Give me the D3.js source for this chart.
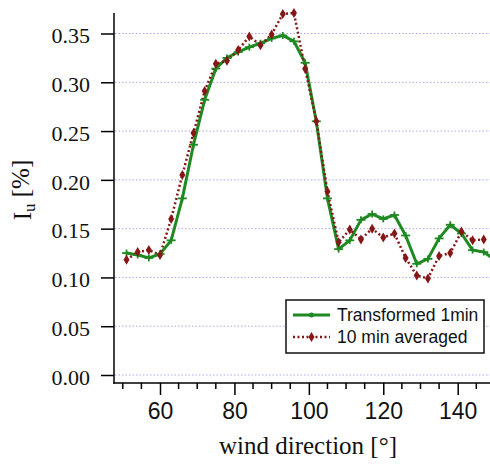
<!DOCTYPE html>
<html>
<head>
<meta charset="utf-8">
<script src="https://cdn.jsdelivr.net/npm/d3@7"></script>
<style>
  body { margin: 0; background: #fff; }
  svg { display: block; }
</style>
</head>
<body>
<div id="chart"></div>
<script>
// wind direction [deg] of each sample
var direction = [51, 54, 57, 60, 63, 66, 69, 72, 75, 78, 81, 84, 87, 90, 93, 96, 99,
                 102, 105, 108, 111, 114, 117, 120, 123, 126, 129, 132, 135, 138, 141, 144, 147, 150];

var transformed1min = [0.125, 0.123, 0.120, 0.124, 0.138, 0.181, 0.236, 0.282, 0.314, 0.325,
                       0.331, 0.336, 0.340, 0.345, 0.348, 0.342, 0.320, 0.260, 0.181, 0.129,
                       0.138, 0.159, 0.165, 0.160, 0.164, 0.143, 0.114, 0.119, 0.140, 0.154,
                       0.145, 0.128, 0.126, 0.118];

var averaged10min = [0.118, 0.126, 0.128, 0.123, 0.160, 0.205, 0.248, 0.291, 0.319, 0.322,
                     0.333, 0.347, 0.338, 0.349, 0.370, 0.371, 0.314, 0.260, 0.188, 0.136,
                     0.149, 0.139, 0.150, 0.141, 0.145, 0.120, 0.102, 0.099, 0.122, 0.125,
                     0.147, 0.138, 0.139, null];

var yTicks = [0.00, 0.05, 0.10, 0.15, 0.20, 0.25, 0.30, 0.35];
var xTicks = [60, 80, 100, 120, 140];
var xMinorTicks = [50, 55, 65, 70, 75, 85, 90, 95, 105, 110, 115, 125, 130, 135, 145];
var seriesNames = ["Transformed 1min", "10 min averaged"];

var svgWidth = 490, svgHeight = 465;
var plot = { left: 114, right: 490, top: 13, bottom: 383 };

var green = "#1f8a22";
var red = "#861717";

var svg = d3.select("#chart").append("svg")
    .attr("width", svgWidth)
    .attr("height", svgHeight);

var xScale = d3.scaleLinear().domain([60, 140]).range([160, 457.7]);
var yScale = d3.scaleLinear().domain([0, 0.35]).range([375, 33.5]);

// dotted grid lines
svg.append("g")
    .selectAll("line")
    .data(yTicks)
    .enter()
    .append("line")
    .attr("x1", plot.left + 1)
    .attr("x2", plot.right)
    .attr("y1", d => yScale(d))
    .attr("y2", d => yScale(d))
    .attr("stroke", "#a9a9ec")
    .attr("stroke-width", 1)
    .attr("stroke-dasharray", "1.5,2");

// y axis
var yAxis = d3.axisLeft(yScale)
    .tickValues(yTicks)
    .tickSize(13)
    .tickPadding(11)
    .tickFormat(d3.format(".2f"));

var yG = svg.append("g")
    .attr("transform", `translate(${plot.left}, 0)`)
    .call(yAxis);
yG.select(".domain").remove();
yG.selectAll(".tick line").attr("stroke", "#000").attr("stroke-width", 1.5);
yG.selectAll(".tick text")
    .attr("fill", "#111")
    .attr("dy", "0.42em")
    .style("font-family", "'Liberation Serif', 'Times New Roman', serif")
    .style("font-size", "22px");

// x axis
var xAxis = d3.axisBottom(xScale)
    .tickValues(xTicks)
    .tickSize(12)
    .tickPadding(8)
    .tickFormat(d3.format("d"));

var xG = svg.append("g")
    .attr("transform", `translate(0, ${plot.bottom})`)
    .call(xAxis);
xG.select(".domain").remove();
xG.selectAll(".tick line").attr("stroke", "#000").attr("stroke-width", 1.5);
xG.selectAll(".tick text")
    .attr("fill", "#111")
    .style("font-family", "'Liberation Sans', Arial, sans-serif")
    .style("font-size", "23px");

xG.selectAll(".minor")
    .data(xMinorTicks)
    .enter()
    .append("line")
    .attr("class", "minor")
    .attr("x1", d => xScale(d))
    .attr("x2", d => xScale(d))
    .attr("y1", 0)
    .attr("y2", 6)
    .attr("stroke", "#000")
    .attr("stroke-width", 1.5);

// axis lines
svg.append("line")
    .attr("x1", plot.left).attr("x2", plot.left)
    .attr("y1", plot.top).attr("y2", plot.bottom + 0.75)
    .attr("stroke", "#000").attr("stroke-width", 1.5);
svg.append("line")
    .attr("x1", plot.left - 0.75).attr("x2", plot.right)
    .attr("y1", plot.bottom).attr("y2", plot.bottom)
    .attr("stroke", "#000").attr("stroke-width", 1.5);

// axis titles
svg.append("text")
    .attr("x", 308)
    .attr("y", 454)
    .attr("text-anchor", "middle")
    .attr("fill", "#111")
    .style("font-family", "'Liberation Serif', 'Times New Roman', serif")
    .style("font-size", "25px")
    .text("wind direction [°]");

var yTitle = svg.append("text")
    .attr("transform", "translate(31, 190) rotate(-90)")
    .attr("text-anchor", "middle")
    .attr("fill", "#111")
    .style("font-family", "'Liberation Serif', 'Times New Roman', serif")
    .style("font-size", "25px");
yTitle.append("tspan").text("I");
yTitle.append("tspan").attr("dy", "0.25em").style("font-size", "17px").text("u");
yTitle.append("tspan").attr("dy", "-0.25em").text(" [%]");

// data
var greenData = direction.map((d, i) => ({ x: d, y: transformed1min[i] }));
var redData = direction.map((d, i) => ({ x: d, y: averaged10min[i] }))
    .filter(d => d.y !== null);

var line = d3.line()
    .x(d => xScale(d.x))
    .y(d => yScale(d.y));

svg.append("path")
    .datum(greenData)
    .attr("d", line)
    .attr("fill", "none")
    .attr("stroke", green)
    .attr("stroke-width", 3)
    .attr("stroke-linejoin", "round");

svg.append("path")
    .datum(redData)
    .attr("d", line)
    .attr("fill", "none")
    .attr("stroke", red)
    .attr("stroke-width", 2.5)
    .attr("stroke-dasharray", "2,2.5");

function greenMarker(sel) {
    sel.append("line").attr("x1", -4.5).attr("x2", 4.5).attr("y1", 0).attr("y2", 0)
        .attr("stroke", green).attr("stroke-width", 1.8);
    sel.append("line").attr("x1", 0).attr("x2", 0).attr("y1", -3.5).attr("y2", 3.5)
        .attr("stroke", green).attr("stroke-width", 1.8);
}

svg.append("g")
    .selectAll("g")
    .data(greenData)
    .enter()
    .append("g")
    .attr("transform", d => `translate(${xScale(d.x)}, ${yScale(d.y)})`)
    .call(greenMarker);

var diamond = "M0,-5L3,0L0,5L-3,0Z";

svg.append("g")
    .selectAll("path")
    .data(redData)
    .enter()
    .append("path")
    .attr("d", diamond)
    .attr("transform", d => `translate(${xScale(d.x)}, ${yScale(d.y)})`)
    .attr("fill", red);

// legend
var legend = svg.append("g");
legend.append("rect")
    .attr("x", 286).attr("y", 300)
    .attr("width", 198).attr("height", 53)
    .attr("fill", "#fff")
    .attr("stroke", "#111")
    .attr("stroke-width", 1.5);

var rows = [
    { name: seriesNames[0], y: 315, color: green, dash: null, w: 3 },
    { name: seriesNames[1], y: 337, color: red, dash: "2,2.5", w: 2.5 }
];

rows.forEach(function(r, i) {
    legend.append("line")
        .attr("x1", 293).attr("x2", 330)
        .attr("y1", r.y).attr("y2", r.y)
        .attr("stroke", r.color)
        .attr("stroke-width", r.w)
        .attr("stroke-dasharray", r.dash);
    if (i === 0) {
        legend.append("circle")
            .attr("cx", 311.5).attr("cy", r.y).attr("r", 2.5)
            .attr("fill", r.color);
    } else {
        legend.append("path")
            .attr("d", diamond)
            .attr("transform", `translate(311.5, ${r.y})`)
            .attr("fill", r.color);
    }
    legend.append("text")
        .attr("x", 337)
        .attr("y", r.y + 6)
        .attr("fill", "#111")
        .style("font-family", "'Liberation Sans', Arial, sans-serif")
        .style("font-size", "17.5px")
        .text(r.name);
});
</script>
</body>
</html>
